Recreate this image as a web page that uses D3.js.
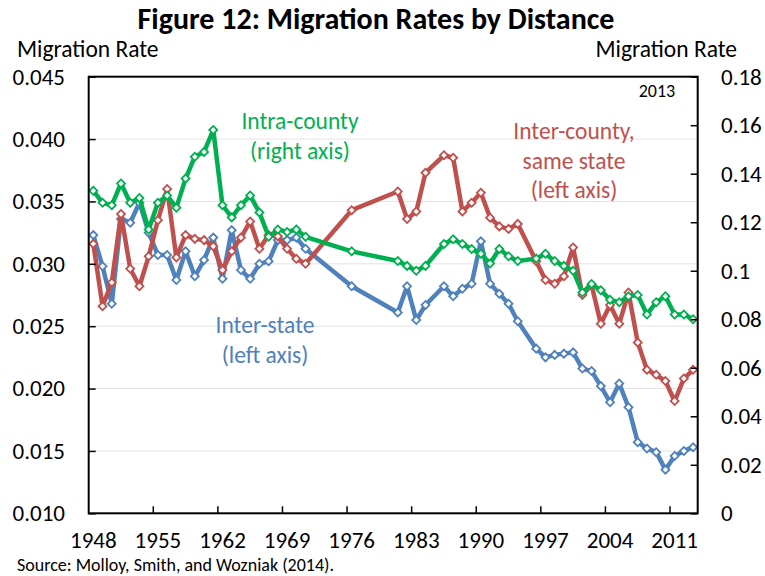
<!DOCTYPE html>
<html>
<head>
<meta charset="utf-8">
<script src="https://cdn.jsdelivr.net/npm/d3@7"></script>
<style>
  body { margin: 0; background: #fff; }
  svg { display: block; font-family: Calibri, Carlito, Lato, sans-serif; }
</style>
</head>
<body>
<svg width="765" height="576"></svg>
<script>
// ─── DATA ─────────────────────────────────────────────────────────────────────

const years = d3.range(1948, 2014);

// null = no one-year migration question that year
const interState = [
  0.0323, 0.0298, 0.0268, 0.0336, 0.0333, 0.0349, 0.0325, 0.0307, 0.0307, 0.0287,
  0.0310, 0.0290, 0.0303, 0.0321, 0.0288, 0.0327, 0.0295, 0.0288, 0.0300, 0.0302,
  0.0319, 0.0319, 0.0321, 0.0312, null, null, null, null, 0.0282, null,
  null, null, null, 0.0261, 0.0282, 0.0255, 0.0267, null, 0.0282, 0.0274,
  0.0280, 0.0284, 0.0318, 0.0284, 0.0276, 0.0268, 0.0254, null, 0.0232, 0.0225,
  0.0227, 0.0228, 0.0229, 0.0216, 0.0214, 0.0202, 0.0189, 0.0204, 0.0185, 0.0157,
  0.0152, 0.0149, 0.0135, 0.0146, 0.0150, 0.0153
];

const interCounty = [
  0.0316, 0.0266, 0.0285, 0.0340, 0.0296, 0.0282, 0.0306, 0.0335, 0.0360, 0.0305,
  0.0323, 0.0320, 0.0319, 0.0314, 0.0295, 0.0310, 0.0321, 0.0334, 0.0312, 0.0323,
  0.0322, 0.0312, 0.0304, 0.0300, null, null, null, null, 0.0343, null,
  null, null, null, 0.0358, 0.0336, 0.0342, 0.0373, null, 0.0387, 0.0385,
  0.0342, 0.0349, 0.0357, 0.0337, 0.0330, 0.0328, 0.0332, null, 0.0302, 0.0287,
  0.0284, 0.0290, 0.0313, 0.0275, 0.0283, 0.0252, 0.0267, 0.0252, 0.0277, 0.0237,
  0.0215, 0.0211, 0.0206, 0.0190, 0.0208, 0.0215
];

const intraCounty = [
  0.133, 0.128, 0.127, 0.136, 0.128, 0.130, 0.117, 0.128, 0.131, 0.126,
  0.138, 0.147, 0.149, 0.158, 0.127, 0.122, 0.127, 0.131, 0.124, 0.114,
  0.117, 0.116, 0.117, 0.114, null, null, null, null, 0.108, null,
  null, null, null, 0.104, 0.102, 0.100, 0.102, null, 0.111, 0.113,
  0.111, 0.109, 0.107, 0.103, 0.109, 0.106, 0.104, null, 0.105, 0.107,
  0.104, 0.102, 0.100, 0.091, 0.0945, 0.092, 0.088, 0.087, 0.0895, 0.090,
  0.082, 0.087, 0.0895, 0.082, 0.082, 0.080
];

const labelYears = [1948, 1955, 1962, 1969, 1976, 1983, 1990, 1997, 2004, 2011];
const leftTicks = [0.010, 0.015, 0.020, 0.025, 0.030, 0.035, 0.040, 0.045];
const rightTicks = [0, 0.02, 0.04, 0.06, 0.08, 0.10, 0.12, 0.14, 0.16, 0.18];

// ─── DIMENSIONS & SCALES ──────────────────────────────────────────────────────

const plot = { left: 88.7, right: 697.7, top: 76.7, bottom: 513.3 };

const svg = d3.select("svg");

const x = d3.scaleBand().domain(years).range([plot.left, plot.right]).padding(0);
const cx = (yr) => x(yr) + x.bandwidth() / 2;

const yLeft = d3.scaleLinear().domain([0.010, 0.045]).range([plot.bottom, plot.top]);
const yRight = d3.scaleLinear().domain([0, 0.18]).range([plot.bottom, plot.top]);

// ─── GRIDLINES ────────────────────────────────────────────────────────────────

svg.append("g")
  .selectAll("line")
  .data(leftTicks.slice(1, -1))
  .join("line")
  .attr("x1", plot.left).attr("x2", plot.right)
  .attr("y1", (d) => yLeft(d)).attr("y2", (d) => yLeft(d))
  .attr("stroke", "#e3e3e3")
  .attr("stroke-width", 1);

// ─── SERIES ───────────────────────────────────────────────────────────────────

const series = [
  { values: interState, y: yLeft, color: "#4f81bd" },
  { values: interCounty, y: yLeft, color: "#c0504d" },
  { values: intraCounty, y: yRight, color: "#00b050" },
];

const diamond = d3.symbol(d3.symbolSquare, 32);

series.forEach((s) => {
  const pts = years
    .map((yr, i) => ({ yr, v: s.values[i] }))
    .filter((d) => d.v != null);

  const line = d3.line()
    .x((d) => cx(d.yr))
    .y((d) => s.y(d.v));

  svg.append("path")
    .datum(pts)
    .attr("d", line)
    .attr("fill", "none")
    .attr("stroke", s.color)
    .attr("stroke-width", 4.5)
    .attr("stroke-linejoin", "round");

  svg.append("g")
    .selectAll("path")
    .data(pts)
    .join("path")
    .attr("d", diamond)
    .attr("transform", (d) => `translate(${cx(d.yr)},${s.y(d.v)}) rotate(45)`)
    .attr("fill", "#fff")
    .attr("stroke", s.color)
    .attr("stroke-width", 1.8);
});

// ─── AXES ─────────────────────────────────────────────────────────────────────

const leftAxis = svg.append("g")
  .attr("transform", `translate(${plot.left},0)`)
  .call(d3.axisLeft(yLeft).tickValues(leftTicks).tickFormat(d3.format(".3f"))
    .tickSizeInner(-7).tickSizeOuter(0).tickPadding(23.7));

const rightAxis = svg.append("g")
  .attr("transform", `translate(${plot.right},0)`)
  .call(d3.axisRight(yRight).tickValues(rightTicks).tickFormat((d) => String(+d.toFixed(2)))
    .tickSizeInner(-7).tickSizeOuter(0).tickPadding(23.3));

const bottomAxis = svg.append("g")
  .attr("transform", `translate(0,${plot.bottom})`)
  .call(d3.axisBottom(x).tickValues(labelYears).tickSize(0).tickPadding(18));

// tick marks sit between categories
svg.append("g")
  .selectAll("line")
  .data(labelYears.slice(1))
  .join("line")
  .attr("x1", (d) => x(d)).attr("x2", (d) => x(d))
  .attr("y1", plot.bottom).attr("y2", plot.bottom - 7)
  .attr("stroke", "#000")
  .attr("stroke-width", 1.5);

[leftAxis, rightAxis, bottomAxis].forEach((g) => {
  g.select(".domain").remove();
  g.selectAll("line").attr("stroke", "#000").attr("stroke-width", 1.5);
  g.selectAll("text").attr("font-size", 23).attr("fill", "#000")
    .attr("font-family", "Calibri, Carlito, Lato, sans-serif");
});

svg.append("rect")
  .attr("x", plot.left).attr("y", plot.top)
  .attr("width", plot.right - plot.left).attr("height", plot.bottom - plot.top)
  .attr("fill", "none")
  .attr("stroke", "#000")
  .attr("stroke-width", 2);

// ─── TEXT ─────────────────────────────────────────────────────────────────────

svg.append("text")
  .attr("x", 376).attr("y", 29)
  .attr("text-anchor", "middle")
  .attr("font-size", 30).attr("font-weight", "bold")
  .text("Figure 12: Migration Rates by Distance");

svg.append("text")
  .attr("x", 17).attr("y", 56.7)
  .attr("font-size", 23.5)
  .text("Migration Rate");

svg.append("text")
  .attr("x", 737).attr("y", 56.7)
  .attr("text-anchor", "end")
  .attr("font-size", 23.5)
  .text("Migration Rate");

svg.append("text")
  .attr("x", 657).attr("y", 96.5)
  .attr("text-anchor", "middle")
  .attr("font-size", 18)
  .text("2013");

svg.append("text")
  .attr("x", 17).attr("y", 571)
  .attr("font-size", 18)
  .text("Source: Molloy, Smith, and Wozniak (2014).");

const notes = [
  { lines: ["Intra-county", "(right axis)"], x: 300, y: 129, color: "#00b050" },
  { lines: ["Inter-county,", "same state", "(left axis)"], x: 574, y: 139, color: "#c0504d" },
  { lines: ["Inter-state", "(left axis)"], x: 265, y: 333, color: "#4f81bd" },
];

notes.forEach((n) => {
  svg.append("text")
    .attr("text-anchor", "middle")
    .attr("font-size", 23.5)
    .attr("fill", n.color)
    .selectAll("tspan")
    .data(n.lines)
    .join("tspan")
    .attr("x", n.x)
    .attr("y", (d, i) => n.y + i * 29.5)
    .text((d) => d);
});
</script>
</body>
</html>
